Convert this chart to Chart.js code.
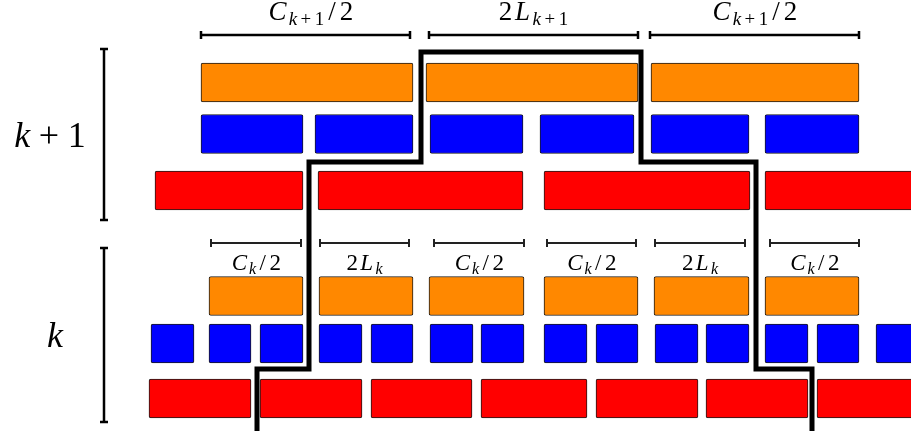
<!DOCTYPE html>
<html>
<head>
<meta charset="utf-8">
<title>Block layout across levels</title>
<script src="https://cdn.jsdelivr.net/npm/chart.js@4.4.1/dist/chart.umd.min.js"></script>
<style>
html, body { margin: 0; padding: 0; background: #fff; }
#chartContainer { width: 911px; height: 431px; position: relative; }
</style>
</head>
<body>
<div id="chartContainer"><canvas id="levelChart"></canvas></div>
<script>
// row centres, pixels from the top: [orange, blue, red]
const rowsTop = [82.5, 134, 190.5];     // level k+1
const rowsBottom = [296, 343.5, 398.5]; // level k

// bar extents [start, end] along x
const orangeTop = [[201, 413], [426, 638], [651, 859]];
const blueTop = [[201, 303], [315, 413], [430, 523], [540, 634], [651, 749], [765, 859]];
const redTop = [[155, 303], [318, 523], [544, 750], [765, 960]];
const orangeBottom = [[209, 303], [319, 413], [429, 524], [544, 638], [654, 749], [765, 859]];
const blueBottom = [[151, 194], [209, 251], [260, 303], [319, 362], [371, 413], [430, 473], [481, 524],
    [544, 587], [596, 638], [655, 698], [706, 749], [765, 808], [817, 859], [876, 919]];
const redBottom = [[149, 251], [260, 362], [371, 472], [481, 587], [596, 698], [706, 808], [817, 918]];

// thick black path crossing the levels
const pathX = [257, 257, 309, 309, 421, 421, 641, 641, 756, 756, 812, 812];
const pathY = [440, 369, 369, 162, 162, 52, 52, 162, 162, 369, 369, 440];

// interval brackets and their labels
const bracketTopY = 35;
const bracketTop = [[201, 410], [429, 638], [650, 859]];
const labelsTop = ['C_{k+1}/2', '2L_{k+1}', 'C_{k+1}/2'];
const labelsTopShift = [5, 0, 0];
const bracketBottomY = 243;
const bracketBottom = [[211, 301], [320, 409], [434, 524], [547, 636], [655, 745], [770, 859]];
const labelsBottom = ['C_k/2', '2L_k', 'C_k/2', 'C_k/2', '2L_k', 'C_k/2'];

// level brackets on the left
const levelX = 104;
const levelSpans = [[49, 220], [248, 422]];
const levelLabels = ['k+1', 'k'];
const levelLabelX = [50, 55];

function toBars(spans, y) {
    return spans.map(s => ({ x: s, y: y }));
}

function barSet(label, color, top, bottom, rowIdx) {
    return {
        type: 'bar',
        label: label,
        data: toBars(top, rowsTop[rowIdx]).concat(toBars(bottom, rowsBottom[rowIdx])),
        backgroundColor: color,
        borderColor: '#1a1a1a',
        borderWidth: 1,
        borderSkipped: false,
        borderRadius: 2,
        barThickness: 39,
        grouped: false,
        order: 2
    };
}

// split "C_{k+1}/2" into runs: letters italic, subscripts smaller and lower
function mathRuns(tex) {
    const runs = [];
    let i = 0;
    while (i < tex.length) {
        if (tex[i] === '_') {
            let sub;
            if (tex[i + 1] === '{') {
                const end = tex.indexOf('}', i);
                sub = tex.slice(i + 2, end);
                i = end + 1;
            } else {
                sub = tex[i + 1];
                i += 2;
            }
            for (const ch of sub) runs.push({ ch: ch, sub: true });
        } else {
            runs.push({ ch: tex[i], sub: false });
            i++;
        }
    }
    return runs;
}

// extra side padding (em) so the glyphs sit like TeX math
const padEm = { '/': 0.1, '+': 0.12, 'L': 0.05, 'C': 0.03 };

function drawMath(ctx, tex, cx, baseline, size, spacing) {
    const runs = mathRuns(tex);
    const sizeFor = r => (r.sub ? size * 0.7 : size);
    const fontFor = r => {
        const italic = /[A-Za-z]/.test(r.ch) ? 'italic ' : '';
        return italic + sizeFor(r) + 'px "Liberation Serif", serif';
    };
    let width = 0;
    runs.forEach((r, i) => {
        ctx.font = fontFor(r);
        // binary '+' at full size gets the wider TeX spacing
        const em = (r.ch === '+' && !r.sub) ? 0.24 : (padEm[r.ch] || 0);
        r.pad = em * sizeFor(r);
        r.w = ctx.measureText(r.ch).width;
        width += r.w + 2 * r.pad + (i < runs.length - 1 ? spacing : 0);
    });
    let x = cx - width / 2;
    ctx.textAlign = 'left';
    ctx.textBaseline = 'alphabetic';
    runs.forEach(r => {
        ctx.font = fontFor(r);
        x += r.pad;
        ctx.fillText(r.ch, x, r.sub ? baseline + size * 0.19 : baseline);
        x += r.w + r.pad + spacing;
    });
}

const annotations = {
    id: 'annotations',
    afterDraw(chart) {
        const ctx = chart.ctx;
        const xs = chart.scales.x;
        const ys = chart.scales.y;
        ctx.save();
        ctx.fillStyle = '#000';
        ctx.lineCap = 'butt';

        function hBracket(span, y, lw, cap, color) {
            const x0 = xs.getPixelForValue(span[0]);
            const x1 = xs.getPixelForValue(span[1]);
            const py = ys.getPixelForValue(y);
            ctx.strokeStyle = color;
            ctx.lineWidth = lw;
            ctx.beginPath();
            ctx.moveTo(x0, py);
            ctx.lineTo(x1, py);
            ctx.moveTo(x0, py - cap);
            ctx.lineTo(x0, py + cap);
            ctx.moveTo(x1, py - cap);
            ctx.lineTo(x1, py + cap);
            ctx.stroke();
        }

        bracketTop.forEach((s, i) => {
            hBracket(s, bracketTopY, 2.5, 4, '#000');
            const cx = xs.getPixelForValue((s[0] + s[1]) / 2) + labelsTopShift[i];
            drawMath(ctx, labelsTop[i], cx, ys.getPixelForValue(bracketTopY) - 15, 27, 1.3);
        });
        bracketBottom.forEach((s, i) => {
            hBracket(s, bracketBottomY, 2, 4, '#222');
            drawMath(ctx, labelsBottom[i], xs.getPixelForValue((s[0] + s[1]) / 2), ys.getPixelForValue(bracketBottomY) + 27, 23, 1.2);
        });

        levelSpans.forEach((s, i) => {
            const px = xs.getPixelForValue(levelX);
            const y0 = ys.getPixelForValue(s[0]);
            const y1 = ys.getPixelForValue(s[1]);
            ctx.strokeStyle = '#000';
            ctx.lineWidth = 2.5;
            ctx.beginPath();
            ctx.moveTo(px, y0);
            ctx.lineTo(px, y1);
            ctx.moveTo(px - 4, y0);
            ctx.lineTo(px + 4, y0);
            ctx.moveTo(px - 4, y1);
            ctx.lineTo(px + 4, y1);
            ctx.stroke();
            drawMath(ctx, levelLabels[i], xs.getPixelForValue(levelLabelX[i]), (y0 + y1) / 2 + 12, 36, 0);
        });
        ctx.restore();
    }
};

const canvas = document.getElementById('levelChart');
const ctx = canvas.getContext('2d');

const config = {
    type: 'bar',
    data: {
        datasets: [
            {
                type: 'line',
                label: 'path',
                indexAxis: 'x',
                data: pathX.map((x, i) => ({ x: x, y: pathY[i] })),
                borderColor: '#000',
                borderWidth: 5,
                borderJoinStyle: 'miter',
                borderCapStyle: 'butt',
                pointRadius: 0,
                tension: 0,
                fill: false,
                order: 1
            },
            barSet('orange', '#ff8800', orangeTop, orangeBottom, 0),
            barSet('blue', '#0000ff', blueTop, blueBottom, 1),
            barSet('red', '#ff0000', redTop, redBottom, 2)
        ]
    },
    options: {
        indexAxis: 'y',
        responsive: true,
        maintainAspectRatio: false,
        animation: false,
        layout: { padding: 0 },
        plugins: { legend: { display: false }, tooltip: { enabled: false } },
        scales: {
            x: { type: 'linear', min: 0, max: 911, display: false, offset: false },
            y: { type: 'linear', min: 0, max: 431, reverse: true, display: false, offset: false }
        }
    },
    plugins: [annotations]
};

const levelChart = new Chart(ctx, config);
</script>
</body>
</html>
